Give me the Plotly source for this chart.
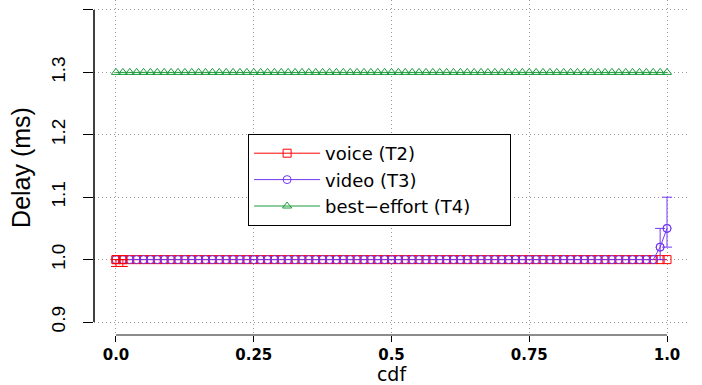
import plotly.graph_objects as go

# cdf positions (x) shared by all three series
cdf = [
    0.0, 0.0125, 0.025, 0.0375, 0.05, 0.0625, 0.075, 0.0875, 0.1, 0.1125,
    0.125, 0.1375, 0.15, 0.1625, 0.175, 0.1875, 0.2, 0.2125, 0.225, 0.2375,
    0.25, 0.2625, 0.275, 0.2875, 0.3, 0.3125, 0.325, 0.3375, 0.35, 0.3625,
    0.375, 0.3875, 0.4, 0.4125, 0.425, 0.4375, 0.45, 0.4625, 0.475, 0.4875,
    0.5, 0.5125, 0.525, 0.5375, 0.55, 0.5625, 0.575, 0.5875, 0.6, 0.6125,
    0.625, 0.6375, 0.65, 0.6625, 0.675, 0.6875, 0.7, 0.7125, 0.725, 0.7375,
    0.75, 0.7625, 0.775, 0.7875, 0.8, 0.8125, 0.825, 0.8375, 0.85, 0.8625,
    0.875, 0.8875, 0.9, 0.9125, 0.925, 0.9375, 0.95, 0.9625, 0.975, 0.9875,
    1.0,
]

delay_voice = [
    1.0, 1.0, 1.0, 1.0, 1.0, 1.0, 1.0, 1.0, 1.0, 1.0,
    1.0, 1.0, 1.0, 1.0, 1.0, 1.0, 1.0, 1.0, 1.0, 1.0,
    1.0, 1.0, 1.0, 1.0, 1.0, 1.0, 1.0, 1.0, 1.0, 1.0,
    1.0, 1.0, 1.0, 1.0, 1.0, 1.0, 1.0, 1.0, 1.0, 1.0,
    1.0, 1.0, 1.0, 1.0, 1.0, 1.0, 1.0, 1.0, 1.0, 1.0,
    1.0, 1.0, 1.0, 1.0, 1.0, 1.0, 1.0, 1.0, 1.0, 1.0,
    1.0, 1.0, 1.0, 1.0, 1.0, 1.0, 1.0, 1.0, 1.0, 1.0,
    1.0, 1.0, 1.0, 1.0, 1.0, 1.0, 1.0, 1.0, 1.0, 1.0,
    1.0,
]

delay_video = [
    1.0, 1.0, 1.0, 1.0, 1.0, 1.0, 1.0, 1.0, 1.0, 1.0,
    1.0, 1.0, 1.0, 1.0, 1.0, 1.0, 1.0, 1.0, 1.0, 1.0,
    1.0, 1.0, 1.0, 1.0, 1.0, 1.0, 1.0, 1.0, 1.0, 1.0,
    1.0, 1.0, 1.0, 1.0, 1.0, 1.0, 1.0, 1.0, 1.0, 1.0,
    1.0, 1.0, 1.0, 1.0, 1.0, 1.0, 1.0, 1.0, 1.0, 1.0,
    1.0, 1.0, 1.0, 1.0, 1.0, 1.0, 1.0, 1.0, 1.0, 1.0,
    1.0, 1.0, 1.0, 1.0, 1.0, 1.0, 1.0, 1.0, 1.0, 1.0,
    1.0, 1.0, 1.0, 1.0, 1.0, 1.0, 1.0, 1.0, 1.0, 1.02,
    1.05,
]

delay_best_effort = [
    1.3, 1.3, 1.3, 1.3, 1.3, 1.3, 1.3, 1.3, 1.3, 1.3,
    1.3, 1.3, 1.3, 1.3, 1.3, 1.3, 1.3, 1.3, 1.3, 1.3,
    1.3, 1.3, 1.3, 1.3, 1.3, 1.3, 1.3, 1.3, 1.3, 1.3,
    1.3, 1.3, 1.3, 1.3, 1.3, 1.3, 1.3, 1.3, 1.3, 1.3,
    1.3, 1.3, 1.3, 1.3, 1.3, 1.3, 1.3, 1.3, 1.3, 1.3,
    1.3, 1.3, 1.3, 1.3, 1.3, 1.3, 1.3, 1.3, 1.3, 1.3,
    1.3, 1.3, 1.3, 1.3, 1.3, 1.3, 1.3, 1.3, 1.3, 1.3,
    1.3, 1.3, 1.3, 1.3, 1.3, 1.3, 1.3, 1.3, 1.3, 1.3,
    1.3,
]

# the few points that carry error bars
voice_err_cdf = [0.0, 0.0125]
voice_err_delay = [1.0, 1.0]
voice_err_plus = [0.0, 0.0]
voice_err_minus = [0.011, 0.011]

video_err_cdf = [0.9875, 1.0]
video_err_delay = [1.02, 1.05]
video_err_plus = [0.03, 0.05]
video_err_minus = [0.02, 0.03]

x_ticks = [0.0, 0.25, 0.5, 0.75, 1.0]
x_tick_labels = ["0.0", "0.25", "0.5", "0.75", "1.0"]
y_ticks = [0.9, 1.0, 1.1, 1.2, 1.3, 1.4]

RED = "#FF0000"
PURPLE = "#7436F5"
GREEN = "#1A9A3A"
NARROW = "Liberation Sans Narrow, Liberation Sans, Arial"
WIDE = "DejaVu Sans, Verdana"
GRID = "#9a9a9a"
PAD = "\u00a0" * 6  # R leaves empty room at the right of the legend box

series = [
    ("voice (T2)", delay_voice, RED, "square-open"),
    ("video (T3)", delay_video, PURPLE, "circle-open"),
    ("best\u2212effort (T4)" + PAD, delay_best_effort, GREEN, "triangle-up-open"),
]

fig = go.Figure()
for name, ys, color, symbol in series:
    fig.add_trace(go.Scatter(
        x=cdf, y=ys, name=name, mode="lines+markers",
        line=dict(color=color, width=1),
        marker=dict(symbol=symbol, size=8, color=color, line=dict(width=1, color=color)),
    ))

fig.add_trace(go.Scatter(
    x=voice_err_cdf, y=voice_err_delay, mode="markers", showlegend=False,
    marker=dict(symbol="square-open", size=8, color=RED),
    error_y=dict(type="data", array=voice_err_plus, arrayminus=voice_err_minus,
                 color=RED, thickness=1, width=5),
))
fig.add_trace(go.Scatter(
    x=video_err_cdf, y=video_err_delay, mode="markers", showlegend=False,
    marker=dict(symbol="circle-open", size=8, color=PURPLE),
    error_y=dict(type="data", array=video_err_plus, arrayminus=video_err_minus,
                 color=PURPLE, thickness=1, width=5),
))

# R-style axis lines that only span the tick range
fig.add_shape(type="line", xref="paper", x0=0, x1=0, yref="y",
              y0=y_ticks[0], y1=y_ticks[-1], line=dict(color="black", width=1.5))
fig.add_shape(type="line", xref="x", x0=x_ticks[0], x1=x_ticks[-1], yref="paper",
              y0=0, y1=0, line=dict(color="#666666", width=1.5))

fig.update_layout(
    width=702, height=385,
    paper_bgcolor="white", plot_bgcolor="white",
    margin=dict(l=94, r=13, t=0, b=50),
    font=dict(family=WIDE, color="black"),
    legend=dict(
        x=0.259, y=0.6, xanchor="left", yanchor="top",
        bgcolor="white", bordercolor="black", borderwidth=1,
        font=dict(family=WIDE, size=18, color="black"),
        itemwidth=66,
    ),
)
fig.update_xaxes(
    range=[-0.0399, 1.0399], tickvals=x_ticks, ticktext=x_tick_labels,
    ticks="outside", ticklen=6, tickcolor="black", automargin=False,
    tickfont=dict(family=WIDE, size=15, weight="bold"),
    showgrid=True, gridcolor=GRID, griddash="1px,3px", gridwidth=1,
    zeroline=False, showline=False,
    title=dict(text="cdf", font=dict(family=WIDE, size=19), standoff=0),
)
fig.update_yaxes(
    range=[0.8792, 1.416], tickvals=y_ticks, tickformat=".1f",
    ticks="outside", ticklen=10, tickcolor="black", tickangle=-90, automargin=False,
    tickfont=dict(family=NARROW, size=19), ticklabelstandoff=10,
    showgrid=True, gridcolor=GRID, griddash="1px,3px", gridwidth=1,
    zeroline=False, showline=False,
    title=dict(text="Delay (ms)", font=dict(family=NARROW, size=25), standoff=10),
)

fig.write_html("out.html", config={"displayModeBar": False},
               post_script="document.body.style.margin = '0';")
